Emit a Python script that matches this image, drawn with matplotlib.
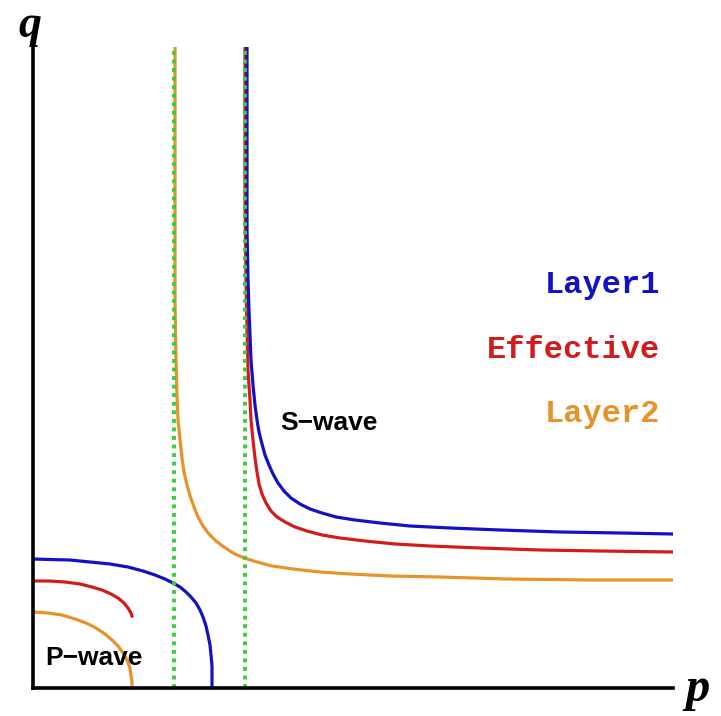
import matplotlib.pyplot as plt

# slowness branches: horizontal slowness p, vertical slowness q (arbitrary units)
p_layer1_P = [0, 17, 37, 57, 77, 95, 110, 122, 132, 140, 147, 153, 158, 163,
              167, 170, 173, 175, 177, 178, 179, 179, 179]
q_layer1_P = [129, 128.5, 128, 126, 124, 121, 117, 113, 109, 105, 101, 96, 91,
              85, 78, 71, 62, 53, 43, 33, 22, 10, 0]

p_eff_P = [0, 17, 32, 47, 59, 69, 78, 85, 91, 95, 98, 99]
q_eff_P = [107, 107, 106, 104, 101, 98, 94, 90, 85, 80, 75, 72]

p_layer2_P = [0, 15, 29, 42, 53, 63, 72, 79, 85, 90, 94, 97, 98, 99, 99]
q_layer2_P = [76, 75, 73, 69, 65, 60, 54, 48, 42, 35, 28, 20, 12, 6, 0]

p_layer1_S = [214, 214, 214, 215, 216, 217, 218, 220, 222, 224, 226, 229, 232,
              236, 240, 245, 251, 258, 267, 277, 289, 303, 322, 347, 377, 417,
              467, 527, 587, 640]
q_layer1_S = [641, 538, 458, 408, 378, 353, 328, 303, 283, 268, 256, 244, 233,
              223, 214, 205, 197, 190, 184, 179, 175, 171, 168, 165, 162, 160,
              158, 156, 155, 154]

p_eff_S = [212, 212, 213, 214, 215, 217, 218, 220, 222, 224, 226, 229, 233,
           238, 244, 252, 262, 274, 289, 307, 332, 362, 397, 447, 507, 567, 640]
q_eff_S = [641, 488, 408, 358, 318, 288, 268, 248, 230, 216, 204, 194, 185,
           177, 171, 166, 161, 157, 153, 150, 147, 144, 142, 140, 138, 137, 136]

p_layer2_S = [142, 142, 142, 143, 144, 145, 147, 149, 151, 154, 157, 161, 165,
              170, 176, 183, 191, 200, 211, 224, 239, 260, 287, 317, 357, 407,
              474, 557, 640]
q_layer2_S = [641, 488, 388, 328, 293, 268, 248, 230, 216, 203, 192, 181, 171,
              162, 154, 147, 141, 135, 130, 126, 122, 119, 116, 114, 112, 111,
              109, 108, 108]

# critical slownesses (vertical guides)
p_critical = [141, 212]

labels = ["Layer1", "Effective", "Layer2"]
colors = ["#1212c4", "#d21c1c", "#e8922c"]
green = "#3ccc3c"

fig = plt.figure(figsize=(7.21, 7.16), dpi=100)
ax = fig.add_axes([33 / 721, 28 / 716, 640 / 721, 641 / 716])

lw = 2.3
ax.plot(p_layer2_S, q_layer2_S, color=colors[2], lw=lw)
ax.plot(p_eff_S, q_eff_S, color=colors[1], lw=lw)
ax.plot(p_layer1_S, q_layer1_S, color=colors[0], lw=lw)
ax.plot(p_layer2_P, q_layer2_P, color=colors[2], lw=lw)
ax.plot(p_eff_P, q_eff_P, color=colors[1], lw=lw)
ax.plot(p_layer1_P, q_layer1_P, color=colors[0], lw=lw)

for pc in p_critical:
    ax.axvline(pc, color=green, lw=2.8, linestyle=(0, (1, 1.2)))

ax.set_xlim(0, 640)
ax.set_ylim(0, 641)
for side in ["top", "right"]:
    ax.spines[side].set_visible(False)
for side in ["left", "bottom"]:
    ax.spines[side].set_linewidth(2.6)
    ax.spines[side].set_color("black")
ax.set_xticks([])
ax.set_yticks([])

# legend as coloured words
for lab, col, qy in zip(labels, colors, [395, 330, 266]):
    ax.text(627, qy, lab, color=col, ha="right", va="baseline",
            family="Liberation Mono", fontweight="bold", fontsize=23)

ax.text(247, 258, "S−wave", ha="left", va="baseline",
        family="Liberation Sans", fontweight="bold", fontsize=19)
ax.text(12, 23, "P−wave", ha="left", va="baseline",
        family="Liberation Sans", fontweight="bold", fontsize=19)

fig.text(18 / 721, (716 - 37) / 716, "q", family="Liberation Serif",
         fontweight="bold", style="italic", fontsize=33, va="baseline")
fig.text(685 / 721, (716 - 701) / 716, "p", family="Liberation Serif",
         fontweight="bold", style="italic", fontsize=35, va="baseline")

fig.savefig("out.png", dpi=100)
